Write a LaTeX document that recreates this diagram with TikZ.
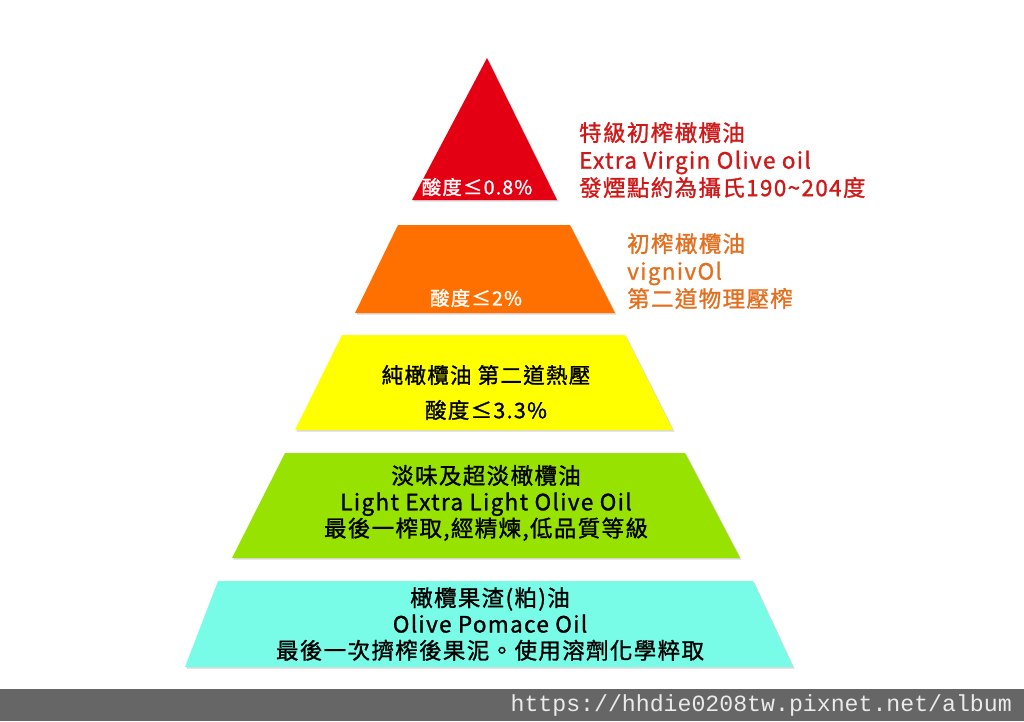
\documentclass[tikz,border=0pt]{standalone}
\usepackage{fontspec}
\setmainfont{Noto Sans CJK TC}[LetterSpace=6, FakeBold=1.2]
\newfontfamily\urlfont{Liberation Mono}
\usetikzlibrary{shadows}

\definecolor{tierred}{RGB}{228,0,18}
\definecolor{tierorange}{RGB}{255,112,0}
\definecolor{tieryellow}{RGB}{255,255,0}
\definecolor{tiergreen}{RGB}{152,226,0}
\definecolor{tiercyan}{RGB}{120,252,232}
\definecolor{labelred}{RGB}{208,24,24}
\definecolor{labelorange}{RGB}{226,112,32}
\definecolor{bargray}{RGB}{102,102,102}
\definecolor{urlgray}{RGB}{235,235,235}

\tikzset{
    tier/.style={fill=#1, draw=none,
        drop shadow={shadow xshift=1.5pt, shadow yshift=-1.5pt, opacity=0.3}},
    intext/.style={align=center, inner sep=0pt, text=#1,
        font=\fontsize{22.5}{26.3}\selectfont},
    sidetext/.style={align=left, anchor=west, inner sep=0pt, text=#1,
        font=\fontsize{22.5}{27.5}\selectfont},
}

\begin{document}
\begin{tikzpicture}[x=1pt, y=-1pt]
    \useasboundingbox (0,0) rectangle (1024,721);

    % Sommet : extra vierge
    \begin{scope}
        \coordinate (r1) at (487, 58);
        \coordinate (r2) at (412, 200);
        \coordinate (r3) at (557, 200);
        \path[tier=tierred] (r1) -- (r2) -- (r3) -- cycle;
        \node[intext=white, font=\fontsize{19.5}{23}\selectfont] (acidred) at (477, 187) {酸度≤0.8\%};
        \node[sidetext=labelred] (labred) at (579, 160)
            {特級初榨橄欖油\\Extra Virgin Olive oil\\發煙點約為攝氏190\char`~204度};
    \end{scope}

    % Deuxième étage : vierge
    \begin{scope}
        \coordinate (o1) at (398, 225);
        \coordinate (o2) at (570, 225);
        \coordinate (o3) at (615, 313);
        \coordinate (o4) at (355, 313);
        \path[tier=tierorange] (o1) -- (o2) -- (o3) -- (o4) -- cycle;
        \node[intext=white, font=\fontsize{19.5}{23}\selectfont] (acidorange) at (476, 298) {酸度≤2\%};
        \node[sidetext=labelorange] (laborange) at (627, 271)
            {初榨橄欖油\\vignivOl\\第二道物理壓榨};
    \end{scope}

    % Troisième étage : pure
    \begin{scope}
        \coordinate (y1) at (342, 335);
        \coordinate (y2) at (625, 335);
        \coordinate (y3) at (673, 430);
        \coordinate (y4) at (295, 430);
        \path[tier=tieryellow] (y1) -- (y2) -- (y3) -- (y4) -- cycle;
        \node[intext=black, font=\fontsize{21.5}{26}\selectfont] (pure) at (486, 375) {純橄欖油 第二道熱壓};
        \node[intext=black, font=\fontsize{21.5}{26}\selectfont] (acidyellow) at (486, 410) {酸度≤3.3\%};
    \end{scope}

    % Quatrième étage : light
    \begin{scope}
        \coordinate (g1) at (285, 453);
        \coordinate (g2) at (685, 453);
        \coordinate (g3) at (740, 558);
        \coordinate (g4) at (232, 558);
        \path[tier=tiergreen] (g1) -- (g2) -- (g3) -- (g4) -- cycle;
        \node[intext=black] (light) at (486, 503)
            {淡味及超淡橄欖油\\Light Extra Light Olive Oil\\最後一榨取,經精煉,低品質等級};
    \end{scope}

    % Base : grignons
    \begin{scope}
        \coordinate (c1) at (218, 581);
        \coordinate (c2) at (753, 581);
        \coordinate (c3) at (793, 667);
        \coordinate (c4) at (185, 667);
        \path[tier=tiercyan] (c1) -- (c2) -- (c3) -- (c4) -- cycle;
        \node[intext=black] (pomace) at (490, 624)
            {橄欖果渣(粕)油\\Olive Pomace Oil\\最後一次擠榨後果泥。使用溶劑化學粹取};
    \end{scope}

    % Bandeau
    \fill[bargray] (0, 689) rectangle (1024, 721);
    \node[anchor=east, inner sep=0pt, text=urlgray, font=\urlfont\fontsize{23.2}{24}\selectfont]
        (url) at (1012, 705) {https://hhdie0208tw.pixnet.net/album};
\end{tikzpicture}
\end{document}
